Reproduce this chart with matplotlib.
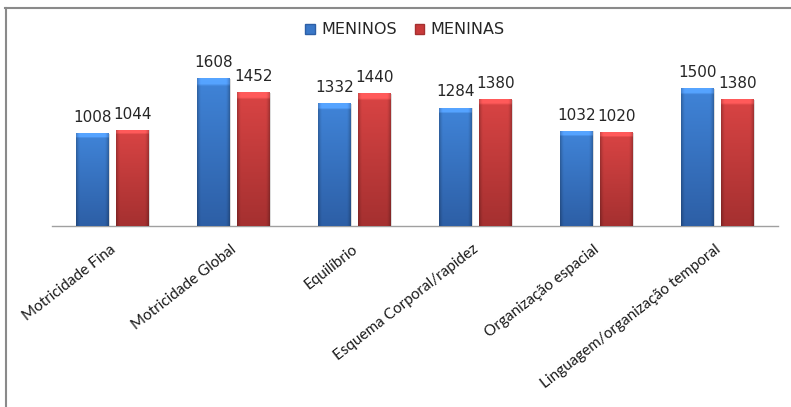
import matplotlib
matplotlib.use("Agg")
import matplotlib.pyplot as plt
import numpy as np
from matplotlib.lines import Line2D
from matplotlib.patches import Rectangle
import matplotlib.transforms as mtrans

categories = ["Motricidade Fina", "Motricidade Global", "Equilíbrio",
              "Esquema Corporal/rapidez", "Organização espacial",
              "Linguagem/organização temporal"]
meninos = [1008, 1608, 1332, 1284, 1032, 1500]
meninas = [1044, 1452, 1440, 1380, 1020, 1380]
series_names = ["MENINOS", "MENINAS"]

W, H = 791, 407
fig = plt.figure(figsize=(W / 100, H / 100), dpi=100)
fig.patch.set_facecolor("white")

# outer border (top and left visible)
fig.add_artist(Line2D([5 / W, 1.0], [1 - 8 / H, 1 - 8 / H], color="#8a8a8a", lw=1.5))
fig.add_artist(Line2D([5.5 / W, 5.5 / W], [0, 1 - 8 / H], color="#8a8a8a", lw=1.5))

left, right, base, top = 52, 778, 226, 40
ax = fig.add_axes([left / W, (H - base) / H, (right - left) / W, (base - top) / H])
ymax = 1608 * (base - top) / 148.0
ax.set_xlim(-0.5, len(categories) - 0.5)
ax.set_ylim(0, ymax)
for s in ["top", "right", "left"]:
    ax.spines[s].set_visible(False)
ax.spines["bottom"].set_color("#a0a0a0")
ax.spines["bottom"].set_linewidth(1.0)
ax.set_yticks([])
ax.tick_params(axis="x", length=0, pad=0)

x = np.arange(len(categories))
off = 20 / 121
bw = 33 / 121

def gradient_img(top_rgb, bot_rgb, n=64):
    t = np.linspace(0, 1, n)[:, None]
    top_c = np.array(top_rgb)[None, None, :]
    bot_c = np.array(bot_rgb)[None, None, :]
    img = top_c * (1 - t[..., None]) + bot_c * t[..., None]
    img = np.repeat(img, n, axis=1)
    xs = np.linspace(-1, 1, n)
    edge = 1 - 0.25 * np.clip((np.abs(xs) - 0.75) / 0.25, 0, 1) ** 1.5
    img = img * edge[None, :, None]
    img[:3, :, :] = np.clip(img[:3, :, :] * 1.15 + 0.05, 0, 1)
    return np.clip(img, 0, 1)

def hex2rgb(h):
    h = h.lstrip("#")
    return [int(h[i:i + 2], 16) / 255 for i in (0, 2, 4)]

styles = [
    (meninos, -off, "#3a78c8", "#4084d8", "#2d5fa6"),
    (meninas, off, "#c83a3a", "#d94444", "#a53030"),
]

for vals, dx, base_col, ctop, cbot in styles:
    bars = ax.bar(x + dx, vals, width=bw, color=base_col, edgecolor="none", zorder=2)
    for b, v in zip(bars, vals):
        bx, by = b.get_x(), b.get_y()
        bwid, bh = b.get_width(), b.get_height()
        ax.add_patch(Rectangle((bx + bwid, 0), 0.012, bh * 0.995, color="#dcdcdc", zorder=1, lw=0))
        im = ax.imshow(gradient_img(hex2rgb(ctop), hex2rgb(cbot)),
                       extent=(bx, bx + bwid, by, by + bh), aspect="auto",
                       zorder=3, interpolation="bilinear")
        im.set_clip_path(b)
        ax.annotate(f"{v}", (bx + bwid / 2, v), xytext=(0, 6),
                    textcoords="offset points", ha="center", va="bottom",
                    fontsize=11, color="#262626", family="DejaVu Sans", zorder=4)

ax.set_xticks(x)
ax.set_xticklabels(categories, rotation=38, ha="right", va="top",
                   rotation_mode="anchor", fontsize=11, family="Lato",
                   color="#1a1a1a")
for lbl in ax.get_xticklabels():
    lbl.set_transform(lbl.get_transform() +
                      mtrans.ScaledTranslation(-0.03, -0.16, fig.dpi_scale_trans))
ax.set_xlim(-0.5, len(categories) - 0.5)

handles = [Rectangle((0, 0), 1, 1, facecolor="#3a78c8", edgecolor="#2d5fa6"),
           Rectangle((0, 0), 1, 1, facecolor="#c83a3a", edgecolor="#a53030")]
leg = fig.legend(handles, series_names, loc="center", bbox_to_anchor=(405 / W, 1 - 30 / H),
                 ncol=2, frameon=False, fontsize=11.5, handlelength=0.6, handleheight=0.6,
                 handletextpad=0.4, columnspacing=1.1)
for t in leg.get_texts():
    t.set_color("#262626")

fig.savefig("out.png", dpi=100, facecolor="white")
